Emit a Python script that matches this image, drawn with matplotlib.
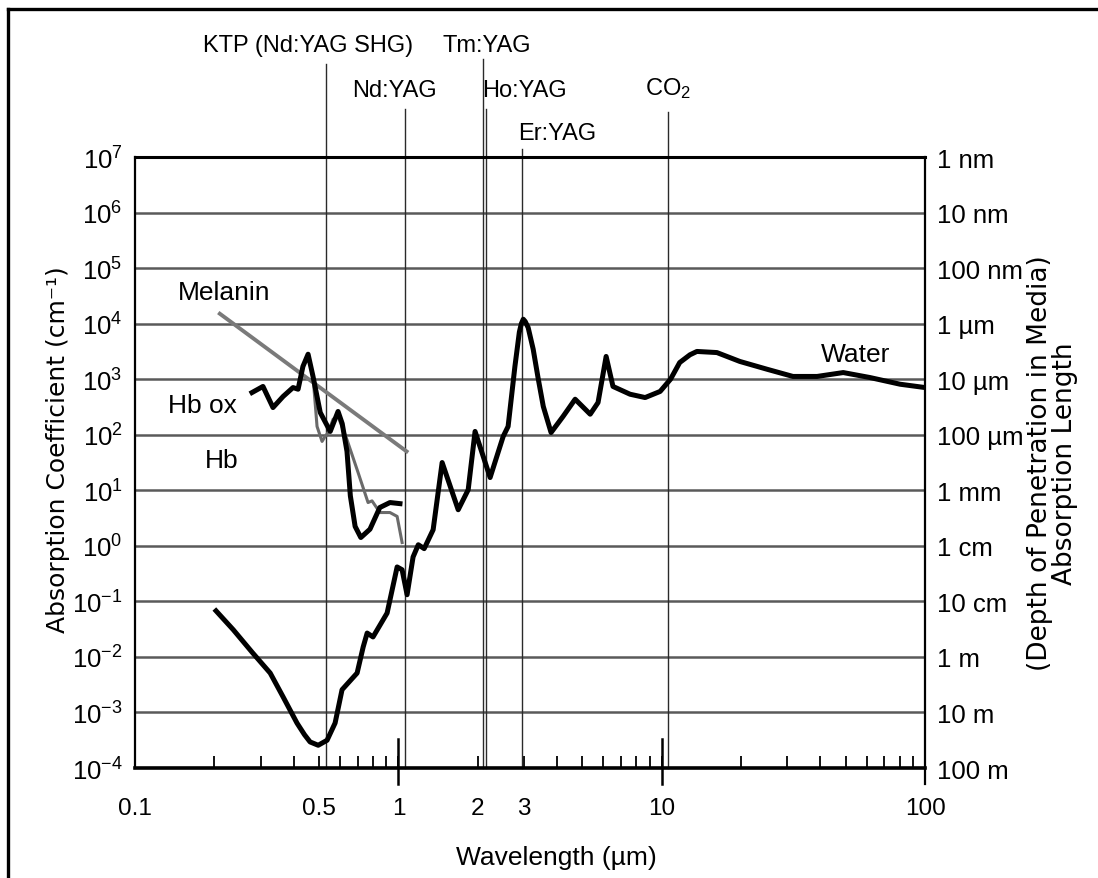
import numpy as np
import matplotlib
matplotlib.use('Agg')
import matplotlib.pyplot as plt
from matplotlib.lines import Line2D
from matplotlib.ticker import FixedLocator, NullLocator, NullFormatter

plt.rcParams['font.family'] = ['Liberation Sans Narrow', 'Liberation Sans', 'DejaVu Sans']

# values: wavelength in um, absorption as log10(cm^-1)
water_wl = [0.203, 0.236, 0.280, 0.326, 0.365, 0.412, 0.440, 0.462, 0.496, 0.536, 0.575,
            0.611, 0.644, 0.697, 0.735, 0.761, 0.801, 0.906, 0.989, 1.033, 1.079, 1.137,
            1.19, 1.253, 1.355, 1.466, 1.687, 1.841, 1.955, 2.23, 2.5, 2.61, 2.77, 2.88,
            2.93, 2.98, 3.03, 3.11, 3.25, 3.39, 3.55, 3.8, 4.22, 4.69, 5.35, 5.73, 6.15,
            6.53, 7.58, 8.65, 9.86, 10.8, 11.7, 12.8, 13.6, 16.2, 19.8, 25.1, 31.5, 38.9,
            48.9, 61.8, 80.4, 100]
water_exp = [-1.17, -1.51, -1.93, -2.29, -2.72, -3.19, -3.40, -3.53, -3.59, -3.5, -3.19,
             -2.59, -2.47, -2.29, -1.82, -1.57, -1.64, -1.21, -0.38, -0.43, -0.88, -0.2,
             0.02, -0.05, 0.29, 1.5, 0.65, 1.01, 2.06, 1.23, 1.97, 2.15, 3.23, 3.85,
             4.0, 4.08, 4.04, 3.93, 3.54, 3.03, 2.51, 2.04, 2.33, 2.64, 2.37, 2.58, 3.41,
             2.87, 2.73, 2.67, 2.78, 3.0, 3.3, 3.44, 3.5, 3.48, 3.32, 3.18, 3.05, 3.05,
             3.12, 3.03, 2.91, 2.85]

hbox_wl = [0.278, 0.306, 0.334, 0.365, 0.398, 0.416, 0.434, 0.454, 0.474, 0.505, 0.551,
           0.59, 0.612, 0.638, 0.657, 0.685, 0.72, 0.78, 0.85, 0.929, 1.014]
hbox_exp = [2.76, 2.87, 2.49, 2.69, 2.85, 2.82, 3.23, 3.45, 3.05, 2.4, 2.06,
            2.42, 2.2, 1.7, 0.9, 0.35, 0.15, 0.3, 0.69, 0.78, 0.76]

hb_wl = [0.434, 0.454, 0.474, 0.491, 0.513, 0.527, 0.541, 0.565, 0.59, 0.638, 0.703,
         0.767, 0.794, 0.851, 0.929, 0.989, 1.033]
hb_exp = [3.23, 3.45, 3.05, 2.15, 1.88, 1.97, 2.04, 2.28, 2.33, 1.91, 1.32,
          0.78, 0.81, 0.6, 0.6, 0.53, 0.06]

melanin_wl = [0.207, 1.089]
melanin_exp = [4.2, 1.68]

laser_names = ['KTP (Nd:YAG SHG)', 'Nd:YAG', 'Tm:YAG', 'Ho:YAG', 'Er:YAG', r'$\mathregular{CO_2}$']
laser_wl = [0.532, 1.064, 2.09, 2.16, 2.96, 10.6]
line_top_exp = [8.68, 7.86, 8.77, 7.86, 7.14, 7.81]
label_wl = [0.454, 0.963, 2.17, 3.0, 4.01, 10.57]
label_exp = [9.02, 8.21, 9.02, 8.21, 7.43, 8.25]

decades = list(range(-4, 8))
depth_labels = ['100 m', '10 m', '1 m', '10 cm', '1 cm', '1 mm', '100 µm', '10 µm',
                '1 µm', '100 nm', '10 nm', '1 nm']
xtick_vals = [0.1, 0.5, 1, 2, 3, 10, 100]
xtick_labels = ['0.1', '0.5', '1', '2', '3', '10', '100']
minor_vals = [0.2, 0.3, 0.4, 0.6, 0.7, 0.8, 0.9, 4, 5, 6, 7, 8, 9,
              20, 30, 40, 50, 60, 70, 80, 90]
big_ticks = [1, 10]

fig = plt.figure(figsize=(10.98, 8.79), dpi=100)
fig.patch.set_facecolor('white')
ax = fig.add_axes([0.123, 0.1251, 0.7195, 0.6951])
ax.set_xscale('log')
ax.set_yscale('log')
ax.set_xlim(0.1, 100)
ax.set_ylim(1e-4, 1e7)

ax.set_yticks([10.0 ** d for d in decades])
ax.set_yticklabels([r'$\mathregular{10^{%d}}$' % d for d in decades], fontsize=18.5)
ax.yaxis.set_minor_locator(NullLocator())
ax.grid(axis='y', which='major', color='#5a5a5a', lw=1.8, zorder=1)

ax.set_xticks(xtick_vals)
ax.set_xticklabels(xtick_labels, fontsize=17.5)
ax.xaxis.set_minor_locator(FixedLocator(minor_vals))
ax.xaxis.set_minor_formatter(NullFormatter())

for s in ['left', 'right']:
    ax.spines[s].set_linewidth(1.6)
ax.spines['top'].set_linewidth(2.2)
ax.spines['bottom'].set_linewidth(2.6)

for t in big_ticks:
    ax.axvline(t, ymin=-0.026, ymax=0.048, color='black', lw=1.8, clip_on=False)
ax.axvline(100, ymin=-0.026, ymax=0.0, color='black', lw=1.6, clip_on=False)

# laser lines
for wl, top in zip(laser_wl, line_top_exp):
    ax.plot([wl, wl], [1e-4, 10.0 ** top], color='#2a2a2a', lw=1.0, clip_on=False, zorder=2)
for name, x, y in zip(laser_names, label_wl, label_exp):
    ax.text(x, 10.0 ** y, name, ha='center', va='center', fontsize=17, clip_on=False)

# curves
ax.plot(melanin_wl, 10.0 ** np.array(melanin_exp), color='#7a7a7a', lw=2.8,
        solid_capstyle='butt', zorder=3)
ax.plot(hb_wl, 10.0 ** np.array(hb_exp), color='#6a6a6a', lw=2.2, zorder=3)
ax.plot(hbox_wl, 10.0 ** np.array(hbox_exp), color='black', lw=3.6,
        solid_joinstyle='round', zorder=4)
ax.plot(water_wl, 10.0 ** np.array(water_exp), color='black', lw=3.6,
        solid_joinstyle='round', zorder=4)

ax.text(0.218, 10 ** 4.57, 'Melanin', ha='center', va='center', fontsize=19)
ax.text(0.181, 10 ** 2.53, 'Hb ox', ha='center', va='center', fontsize=19)
ax.text(0.214, 10 ** 1.54, 'Hb', ha='center', va='center', fontsize=19)
ax.text(54.3, 10 ** 3.45, 'Water', ha='center', va='center', fontsize=19)

# right axis: absorption length
ax2 = ax.twinx()
ax2.set_yscale('log')
ax2.set_ylim(1e-4, 1e7)
ax2.set_yticks([10.0 ** d for d in decades])
ax2.set_yticklabels(depth_labels, fontsize=18.5)
ax2.yaxis.set_minor_locator(NullLocator())
ax2.tick_params(axis='y', length=0, pad=8.5)
for s in ax2.spines.values():
    s.set_visible(False)

ax.tick_params(axis='y', length=0, pad=9)
ax.xaxis.set_tick_params(which='major', direction='in', length=8.5, width=1.3, pad=21)
ax.xaxis.set_tick_params(which='minor', direction='in', length=8.5, width=1.3)

ax.text(-0.0975, 0.522, 'Absorption Coefficient (cm⁻¹)', transform=ax.transAxes,
        rotation=90, ha='center', va='center', fontsize=18, family='DejaVu Sans')
ax.text(1.161, 0.5, '(Depth of Penetration in Media)\nAbsorption Length',
        transform=ax.transAxes, rotation=90, ha='center', va='center', fontsize=19,
        family='DejaVu Sans', linespacing=0.95, multialignment='center')
fig.text(0.5064, 1 - 858 / 879, 'Wavelength (µm)', ha='center', va='center', fontsize=19)

# outer frame
fig.add_artist(Line2D([8 / 1098, 1.0], [1 - 10 / 879, 1 - 10 / 879],
                      transform=fig.transFigure, color='black', lw=2.4))
fig.add_artist(Line2D([8 / 1098, 8 / 1098], [0.0, 1 - 10 / 879],
                      transform=fig.transFigure, color='black', lw=2.4))

fig.savefig('out.png', dpi=100)
